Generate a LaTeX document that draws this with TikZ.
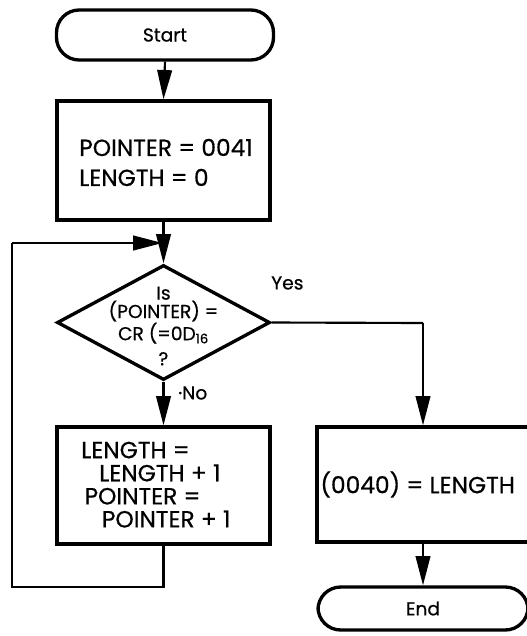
\documentclass[tikz,border=0pt]{standalone}
\usepackage{fontspec}
\setmainfont{Poppins}[FakeBold=0.6]
\usetikzlibrary{shapes.geometric,arrows.meta}
\tikzset{
  box/.style={draw, line width=2.5pt, rectangle, inner sep=0pt, align=left},
  term/.style={draw, line width=2.5pt, rectangle, rounded corners=17pt, inner sep=0pt},
  decis/.style={draw, line width=2.5pt, diamond, inner sep=0pt},
  conn/.style={line width=1.6pt, -{Triangle[length=22pt,width=11pt]}},
  plain/.style={line width=1.6pt},
  small/.style={font=\fontsize{14}{16}\selectfont},
  boxtext/.style={inner sep=0pt, align=left, font=\fontsize{17.5}{17.3}\selectfont},
}
\begin{document}
\begin{tikzpicture}[x=0.75pt,y=-0.75pt]
\useasboundingbox (0,0) rectangle (526,636);
\node[term, minimum width=162.75pt, minimum height=37.5pt, small] (start) at (165,35) {Start};
\node[box, minimum width=159.75pt, minimum height=89.25pt] (init) at (163.5,160.5) {};
\node[boxtext, anchor=west, font=\fontsize{17.5}{22.5}\selectfont] (inittxt) at (79,162.5)
  {POINTER = 0041\\LENGTH = 0};
\node[decis, minimum width=159.75pt, minimum height=86.25pt] (dec) at (163.5,322.5) {};
\node[align=center, font=\fontsize{14}{13.8}\selectfont, inner sep=0pt] (dectxt) at (163.5,326)
  {Is\\(POINTER) =\\CR (=0D$_{\mathrm{16}}$\\[5pt]?};
\node[box, minimum width=159.75pt, minimum height=87.75pt] (inc) at (163.5,485.5) {};
\node[boxtext, anchor=north west] (inctxt) at (81,441.5)
  {LENGTH =\\\hspace*{13.5pt}LENGTH + 1\\\hspace*{2.5pt}POINTER =\\\hspace*{15.5pt}POINTER + 1};
\node[box, minimum width=159pt, minimum height=86.25pt, font=\fontsize{17.5}{21}\selectfont] (store) at (423,484.5)
  {(0040) = LENGTH\hspace*{8pt}};
\node[term, minimum width=157.5pt, minimum height=32.25pt, small] (end) at (423,608.5) {End};
\coordinate (merge) at (163.5,243);
\coordinate (yescorner) at (423,323);
\coordinate (loopbot) at (163.5,587);
\coordinate (loopleft) at (12,587);
\coordinate (looptop) at (12,243);
\draw[conn] (start.south) -- (init.north);
\draw[conn] (init.south) -- (dec.north);
\draw[plain] (dec.east) -- (yescorner);
\draw[conn] (yescorner) -- (store.north);
\draw[conn] (dec.south) -- (inc.north);
\draw[plain] (inc.south) -- (loopbot) -- (loopleft) -- (looptop);
\draw[conn] (looptop) -- ([xshift=-0.8pt]merge);
\draw[conn] (store.south) -- (end.north);
\node[small, anchor=west, inner sep=0pt] (yes) at (271,283) {Yes};
\node[small, anchor=west, inner sep=0pt] (no) at (178,393) {·No};
\end{tikzpicture}
\end{document}
